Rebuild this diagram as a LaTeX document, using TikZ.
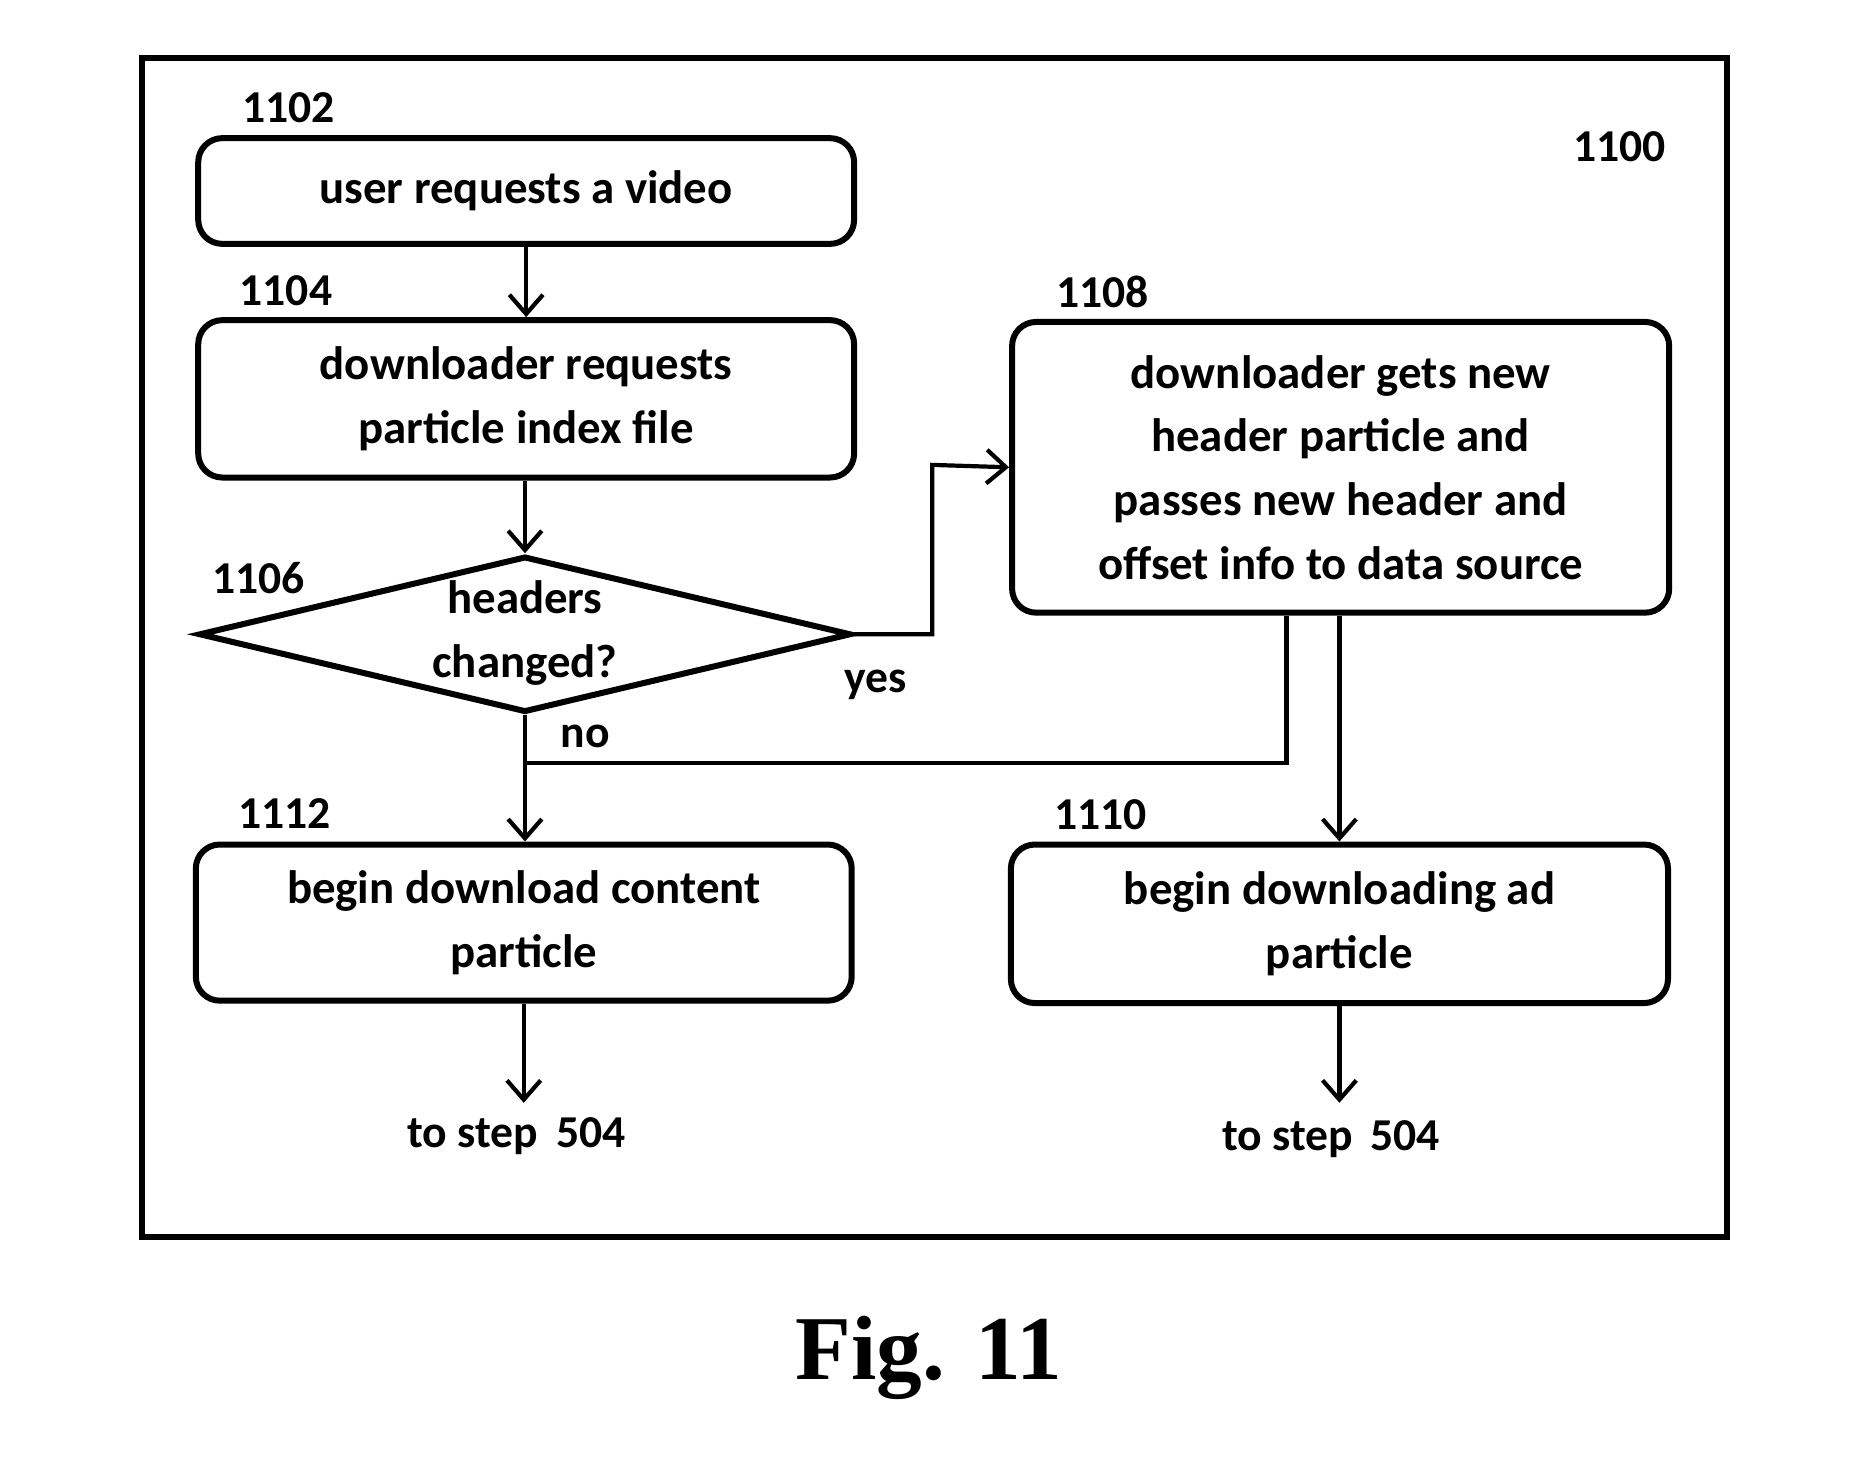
\documentclass[tikz,border=0pt]{standalone}
\usepackage{fontspec}
\setmainfont{Carlito}
\newfontfamily\figfont{Liberation Serif}
\usetikzlibrary{shapes.geometric,arrows.meta}
\tikzset{
  stepbox/.style={draw,line width=5pt,rounded corners=20pt,align=center,font=\bfseries\fontsize{39}{53}\selectfont},
  lbl/.style={font=\bfseries\fontsize{38}{40}\selectfont},
  flow/.style={line width=3.5pt,-{Straight Barb[length=16pt,width=28pt,line width=3.5pt]}},
  link/.style={line width=3.5pt}
}
\begin{document}
\begin{tikzpicture}[x=1pt,y=-1pt]
  \useasboundingbox (0,0) rectangle (1560,1224);
  \draw[line width=5pt] (118,48) rectangle (1438,1030);

  % steps
  \node[stepbox,minimum width=546pt,minimum height=88pt] (request) at (438,159) {user requests a video};
  \node[stepbox,minimum width=546pt,minimum height=131pt] (index) at (438,332) {downloader requests\\particle index file};
  \node[draw,line width=5pt,diamond,aspect=4.2,minimum width=543pt,minimum height=130pt] (changed) at (437,528) {};
  \node[lbl,align=center,font=\bfseries\fontsize{39}{53}\selectfont] (changedtxt) at (437,527) {headers\\changed?};
  \node[stepbox,minimum width=547pt,minimum height=242pt] (header) at (1116,389) {downloader gets new\\header particle and\\passes new header and\\offset info to data source};
  \node[stepbox,minimum width=546pt,minimum height=130pt] (content) at (436,768) {begin download content\\particle};
  \node[stepbox,minimum width=547pt,minimum height=132pt] (ad) at (1115,769) {begin downloading ad\\particle};

  % labels
  \node[lbl] (l1102) at (240,90) {1102};
  \node[lbl] (l1104) at (238,242) {1104};
  \node[lbl] (l1106) at (215,481) {1106};
  \node[lbl] (l1108) at (918,243) {1108};
  \node[lbl] (l1112) at (237,677) {1112};
  \node[lbl] (l1110) at (916,678) {1110};
  \node[lbl] (l1100) at (1348,122) {1100};
  \node[lbl] (yes) at (729,570) {yes};
  \node[lbl] (no) at (487,613) {no};
  \node[lbl] (out1) at (430,946) {to step\, 504};
  \node[lbl] (out2) at (1108,948) {to step\, 504};

  % connectors
  \coordinate (bend) at (1071,635);
  \draw[flow] (request) -- (index);
  \draw[flow] (index.south -| changed) -- (changed.north);
  \draw[flow] (changed.east) -| (776,387) -- (header.west);
  \draw[link] (header.south -| bend) |- (changed.south |- bend);
  \draw[flow] (changed.south) -- (changed.south |- content.north);
  \draw[flow] (header.south -| ad) -- (ad.north);
  \draw[flow] (content.south) -- (436,918);
  \draw[flow] (ad.south) -- (1115,918);

  \node[font=\figfont\bfseries\fontsize{76}{80}\selectfont] (fig) at (773,1130) {Fig. 11};
\end{tikzpicture}
\end{document}
